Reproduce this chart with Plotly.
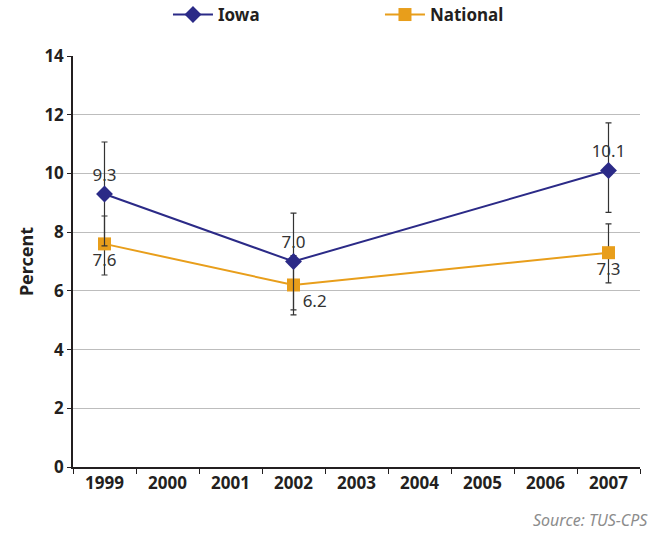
import plotly.graph_objects as go

years = ["1999", "2000", "2001", "2002", "2003", "2004", "2005", "2006", "2007"]
obs_years = ["1999", "2002", "2007"]
iowa = [9.3, 7.0, 10.1]
iowa_err_plus = [1.77, 1.65, 1.62]
iowa_err_minus = [1.77, 1.65, 1.43]
national = [7.6, 6.2, 7.3]
national_err_plus = [0.95, 1.0, 0.98]
national_err_minus = [1.06, 1.02, 1.03]
y_ticks = [0, 2, 4, 6, 8, 10, 12, 14]

FONT = "Noto Sans"
IOWA_C = "#2B2A87"
NAT_C = "#E89E1B"
TXT = "#231F20"

fig = go.Figure()
fig.add_trace(go.Scatter(
    x=obs_years, y=national, name="National", mode="lines+markers+text",
    line=dict(color=NAT_C, width=2),
    marker=dict(symbol="square", size=13, color=NAT_C),
    text=[f"{v:.1f}" for v in national],
    textposition=["bottom center", "bottom right", "bottom center"],
    textfont=dict(family=FONT, size=17, color="#333333"),
    error_y=dict(type="data", symmetric=False, array=national_err_plus,
                 arrayminus=national_err_minus, color="#333333", thickness=1.2, width=3),
))
fig.add_trace(go.Scatter(
    x=obs_years, y=iowa, name="Iowa", mode="lines+markers+text",
    line=dict(color=IOWA_C, width=2),
    marker=dict(symbol="diamond", size=13, color=IOWA_C),
    text=[f"{v:.1f}" for v in iowa],
    textposition=["top center", "top center", "top center"],
    textfont=dict(family=FONT, size=17, color="#333333"),
    error_y=dict(type="data", symmetric=False, array=iowa_err_plus,
                 arrayminus=iowa_err_minus, color="#333333", thickness=1.2, width=3),
))

fig.update_layout(
    width=662, height=533,
    margin=dict(l=73, r=22, t=56, b=66, autoexpand=False),
    plot_bgcolor="white", paper_bgcolor="white",
    font=dict(family=FONT, color=TXT),
    showlegend=True,
    legend=dict(orientation="h", x=0.1675, xanchor="left", y=1.0998, yanchor="middle",
                yref="paper", xref="paper", traceorder="reversed",
                font=dict(family=FONT, size=17, color=TXT, weight="bold"),
                entrywidth=157, itemwidth=40),
    xaxis=dict(type="category", categoryorder="array", categoryarray=years,
               range=[-0.5, 8.5], tickson="boundaries", ticks="outside", ticklen=5,
               tickcolor=TXT, showline=True, linecolor=TXT, linewidth=1.5,
               showgrid=False, tickfont=dict(family=FONT, size=17, color=TXT, weight="bold")),
    yaxis=dict(range=[0, 14], tickvals=y_ticks, ticks="outside", ticklen=4,
               tickcolor=TXT, showline=True, linecolor=TXT, linewidth=1.5,
               showgrid=True, gridcolor="#BDBDBD", gridwidth=1, zeroline=False,
               tickfont=dict(family=FONT, size=17, color=TXT, weight="bold"),
               title=dict(text="Percent", standoff=6,
                          font=dict(family=FONT, size=18, color=TXT, weight="bold"))),
    annotations=[dict(text="<i>Source: TUS-CPS</i>", xref="paper", yref="paper",
                      x=1.0176, y=-0.129, xanchor="right", yanchor="middle", showarrow=False,
                      font=dict(family=FONT, size=16, color="#8C8C8C"))],
)

fig.write_html("out.html", config={"displayModeBar": False},
               post_script="document.body.style.margin='0';")
